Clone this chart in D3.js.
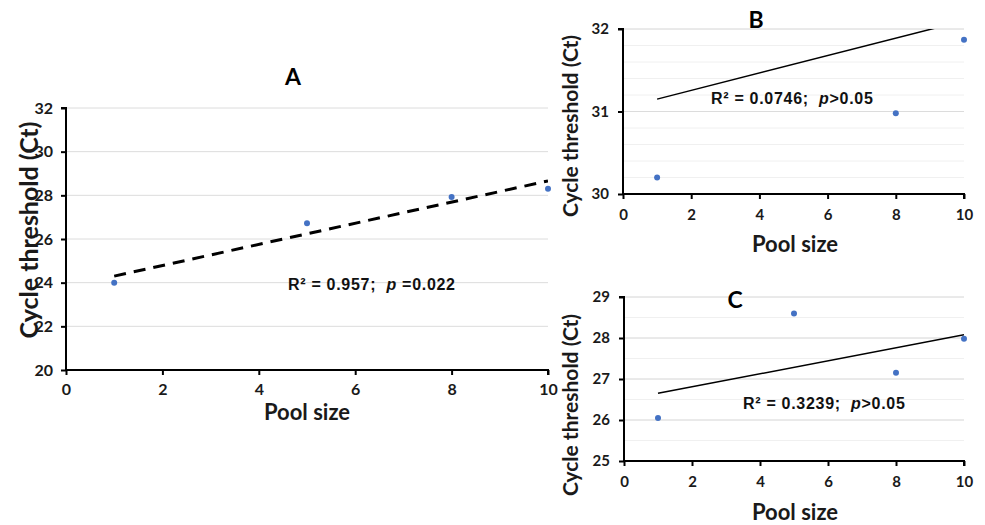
<!DOCTYPE html>
<html>
<head>
<meta charset="utf-8">
<script src="https://cdn.jsdelivr.net/npm/d3@7"></script>
<style>
  body { margin: 0; background: #fff; }
  svg text { font-family: Lato, "Open Sans", sans-serif; }
  svg text.note { font-family: "Liberation Sans", Arial, sans-serif; white-space: pre; letter-spacing: 0.7px; }
</style>
</head>
<body>
<div id="chart"></div>
<script>
// data
let poolA = [1, 5, 8, 10];
let ctA = [24.0, 26.72, 27.92, 28.3];
let trendA = [[1, 24.3], [10, 28.66]];

let poolB = [1, 8, 10];
let ctB = [30.2, 30.98, 31.87];
let trendB = [[1, 31.15], [10, 32.1]];

let poolC = [1, 5, 8, 10];
let ctC = [26.05, 28.6, 27.15, 27.98];
let trendC = [[1, 26.65], [10, 28.08]];

let xTicks = [0, 2, 4, 6, 8, 10];

let svg = d3.select("#chart").append("svg")
    .attr("width", 985)
    .attr("height", 525);

// draws one panel
function drawPanel(p) {
    let g = svg.append("g");

    let x = d3.scaleLinear().domain([0, 10]).range(p.xr);
    let y = d3.scaleLinear().domain(p.yd).range(p.yr);

    // minor gridlines
    if (p.minor) {
        g.append("g").selectAll("line")
            .data(d3.range(p.yd[0] + p.minor, p.yd[1] + 1e-9, p.minor))
            .join("line")
            .attr("x1", x(0)).attr("x2", x(10))
            .attr("y1", d => y(d)).attr("y2", d => y(d))
            .attr("stroke", "#f0f0f0").attr("stroke-width", 1);
    }
    // major gridlines
    g.append("g").selectAll("line")
        .data(p.yTicks.slice(1))
        .join("line")
        .attr("x1", x(0)).attr("x2", x(10))
        .attr("y1", d => y(d)).attr("y2", d => y(d))
        .attr("stroke", "#dcdcdc").attr("stroke-width", 1);

    // axes
    let xAxis = d3.axisBottom(x).tickValues(xTicks).tickFormat(d3.format("d")).tickSize(5).tickPadding(p.xPad);
    let yAxis = d3.axisLeft(y).tickValues(p.yTicks).tickFormat(d3.format("d")).tickSize(5).tickPadding(p.yPad);

    g.append("g")
        .attr("transform", "translate(0," + p.yr[0] + ")")
        .call(xAxis)
        .call(a => a.select(".domain").attr("stroke-width", 2).attr("d", "M" + p.xr[0] + ",0H" + p.xr[1] + "V5"))
        .call(a => a.selectAll("line").attr("stroke-width", 2))
        .selectAll("text")
        .attr("font-size", p.tickFont).attr("font-weight", "bold").attr("fill", "#1a1a1a");

    g.append("g")
        .attr("transform", "translate(" + p.xr[0] + ",0)")
        .call(yAxis)
        .call(a => a.select(".domain").attr("stroke-width", 2).attr("d", "M-5," + p.yr[1] + "H0V" + p.yr[0]))
        .call(a => a.selectAll("line").attr("stroke-width", 2))
        .selectAll("text")
        .attr("font-size", p.tickFont).attr("font-weight", "bold").attr("fill", "#1a1a1a");

    // clip for the trend line
    let clipId = "clip" + p.name;
    svg.append("defs").append("clipPath").attr("id", clipId)
        .append("rect")
        .attr("x", p.xr[0]).attr("y", p.yr[1])
        .attr("width", p.xr[1] - p.xr[0]).attr("height", p.yr[0] - p.yr[1]);

    g.append("path")
        .datum(p.trend)
        .attr("clip-path", "url(#" + clipId + ")")
        .attr("fill", "none")
        .attr("stroke", "#000")
        .attr("stroke-width", p.dashed ? 3 : 1.5)
        .attr("stroke-dasharray", p.dashed ? "12,8" : null)
        .attr("d", d3.line().x(d => x(d[0])).y(d => y(d[1])));

    // points
    g.append("g").selectAll("circle")
        .data(p.xs.map((v, i) => [v, p.ys[i]]))
        .join("circle")
        .attr("cx", d => x(d[0]))
        .attr("cy", d => y(d[1]))
        .attr("r", 3)
        .attr("fill", "#4472c4");

    // panel letter
    g.append("text")
        .text(p.name)
        .attr("x", p.titlePos[0]).attr("y", p.titlePos[1])
        .attr("text-anchor", "middle")
        .attr("font-size", 23).attr("font-weight", "bold");

    // axis titles
    g.append("text")
        .text("Pool size")
        .attr("x", p.xTitle[0]).attr("y", p.xTitle[1])
        .attr("text-anchor", "middle")
        .attr("font-size", p.titleFont).attr("font-weight", "bold").attr("fill", "#1a1a1a");

    g.append("text")
        .text("Cycle threshold (Ct)")
        .attr("transform", "translate(" + p.yTitle[0] + "," + p.yTitle[1] + ") rotate(-90)")
        .attr("text-anchor", "middle")
        .attr("font-size", p.yTitleFont).attr("font-weight", "bold").attr("fill", "#1a1a1a");

    // annotation
    let t = g.append("text")
        .attr("class", "note")
        .attr("x", p.note[0]).attr("y", p.note[1])
        .attr("font-size", 16).attr("font-weight", "bold").attr("fill", "#111");
    t.append("tspan").text(p.noteA);
    t.append("tspan").text("p").attr("font-style", "italic");
    t.append("tspan").text(p.noteB);
}

drawPanel({
    name: "A", xs: poolA, ys: ctA, trend: trendA, dashed: true,
    xr: [66, 548], yr: [370, 108], yd: [20, 32], yTicks: [20, 22, 24, 26, 28, 30, 32],
    tickFont: 16, xPad: 9, yPad: 8,
    titlePos: [293, 85], xTitle: [307, 420], titleFont: 22,
    yTitle: [38, 230], yTitleFont: 25,
    note: [288, 290], noteA: "R\u00b2 = 0.957;  ", noteB: " =0.022"
});

drawPanel({
    name: "B", xs: poolB, ys: ctB, trend: trendB, dashed: false, minor: 0.2,
    xr: [623, 964], yr: [194, 29], yd: [30, 32], yTicks: [30, 31, 32],
    tickFont: 15, xPad: 10, yPad: 9,
    titlePos: [756, 28], xTitle: [795, 252], titleFont: 22,
    yTitle: [578, 126], yTitleFont: 21,
    note: [711, 104], noteA: "R\u00b2 = 0.0746;  ", noteB: ">0.05"
});

drawPanel({
    name: "C", xs: poolC, ys: ctC, trend: trendC, dashed: false, minor: 0.5,
    xr: [624, 964], yr: [461, 297], yd: [25, 29], yTicks: [25, 26, 27, 28, 29],
    tickFont: 15, xPad: 10, yPad: 9,
    titlePos: [735, 308], xTitle: [795, 520], titleFont: 22,
    yTitle: [578, 405], yTitleFont: 21,
    note: [743, 409], noteA: "R\u00b2 = 0.3239;  ", noteB: ">0.05"
});
</script>
</body>
</html>
